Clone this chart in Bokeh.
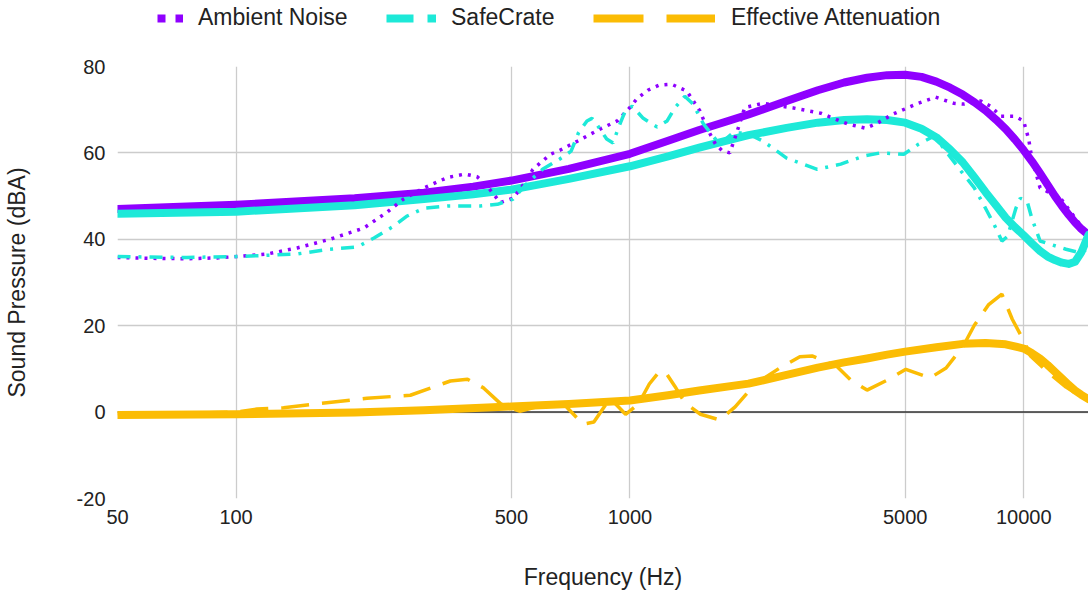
from bokeh.plotting import figure
from bokeh.layouts import column
from bokeh.models import (FixedTicker, PrintfTickFormatter, Span, Legend, LegendItem, Range1d)
from bokeh.embed import file_html
from bokeh.resources import INLINE

# ---------------- data ----------------
x_ticks = [50, 100, 500, 1000, 5000, 10000]
y_ticks = [-20, 0, 20, 40, 60, 80]

ambient_f = [50, 60, 75, 90, 100, 120, 143, 173, 211, 242, 266, 300, 344, 381, 409, 430,
             450, 469, 505, 540, 567, 629, 664, 735, 839, 929, 1000, 1041, 1110, 1188,
             1275, 1395, 1506, 1570, 1650, 1711, 1793, 1866, 1957, 2180, 2600, 3050,
             3570, 3970, 4250, 4660, 5400, 5970, 6640, 7040, 7780, 8230, 8750, 9480,
             9990, 10290, 10480, 11000, 12400, 14300, 14600]
ambient_db = [35.8, 35.6, 35.5, 35.7, 36.0, 36.6, 38.0, 40.0, 42.6, 46.3, 49.3, 51.9, 54.3,
              55.1, 54.5, 52.8, 50.5, 48.5, 49.5, 53.0, 56.2, 59.7, 60.6, 62.7, 65.5, 67.4,
              70.5, 72.5, 74.5, 75.7, 75.9, 74.3, 69.7, 65.7, 62.0, 60.6, 60.0, 64.6, 70.5,
              71.5, 70.4, 69.2, 66.7, 65.7, 66.9, 69.0, 71.5, 72.9, 71.5, 71.3, 72.0, 70.8,
              68.5, 68.5, 67.4, 63.2, 58.8, 51.9, 49.5, 41.9, 41.0]

safe_f = [50, 75, 100, 143, 173, 203, 224, 251, 272, 300, 344, 417, 461, 505, 546, 600,
          664, 709, 740, 778, 801, 823, 873, 906, 934, 973, 1014, 1081, 1172, 1243, 1300,
          1378, 1446, 1537, 1625, 1690, 1825, 1980, 2180, 2500, 2990, 3430, 3930, 4320,
          4960, 5400, 5930, 6930, 7490, 7900, 8400, 8800, 9100, 9550, 9800, 10200, 10480,
          11000, 12800, 14000, 14600]
safe_db = [36.0, 35.8, 36.0, 36.6, 37.7, 38.2, 40.3, 43.0, 45.4, 47.2, 47.7, 47.7, 48.1,
           49.3, 52.8, 56.2, 58.6, 60.4, 64.6, 67.4, 68.0, 66.7, 63.2, 62.3, 65.7, 69.7,
           70.8, 68.0, 66.0, 67.4, 70.4, 73.1, 71.3, 66.7, 63.9, 62.0, 64.6, 64.6, 62.7,
           58.8, 56.2, 57.4, 59.3, 60.0, 59.7, 62.0, 63.9, 55.8, 51.9, 48.1, 43.5, 39.6,
           40.7, 47.2, 49.5, 48.8, 44.9, 39.6, 37.7, 36.8, 38.0]

atten_f = [50, 80, 100, 113, 132, 160, 215, 277, 350, 387, 425, 470, 525, 617, 680, 760,
           810, 890, 975, 1050, 1120, 1190, 1240, 1300, 1380, 1510, 1690, 1850, 2080, 2400,
           2700, 2900, 3350, 3640, 4000, 4500, 5020, 5780, 6350, 7020, 7490, 8130, 8800,
           9350, 10000, 10400, 11600, 12800, 14300, 14600]
atten_db = [-0.3, -0.2, 0.0, 0.7, 1.0, 1.9, 3.2, 3.9, 7.2, 7.6, 5.6, 1.9, 0.2, 1.9, 1.8,
            -2.8, -2.3, 3.2, -0.5, 1.8, 6.5, 9.5, 8.8, 6.0, 2.1, -0.5, -1.8, 1.2, 6.5, 10.2,
            12.8, 13.0, 10.6, 7.4, 5.1, 7.4, 9.9, 7.9, 10.2, 15.3, 20.1, 24.8, 27.3, 21.5,
            16.5, 13.0, 9.0, 5.8, 3.0, 2.8]

# trend lines (thick smooth curves), read at many frequencies
ambient_trend_f = [50, 100, 200, 300, 400, 500, 700, 1000, 1250, 1500, 1750, 2000, 2500,
                   3000, 3500, 4000, 4500, 5000, 5500, 6000, 6500, 7000, 7500, 8000, 8500,
                   9000, 9500, 10000, 10500, 11000, 11500, 12000, 12500, 13000, 13500,
                   14000, 14600]
ambient_trend_db = [47.0, 48.0, 49.5, 50.8, 52.2, 53.6, 56.3, 59.8, 62.8, 65.3, 67.2, 68.9,
                    72.0, 74.5, 76.3, 77.4, 78.0, 78.1, 77.6, 76.5, 75.1, 73.5, 71.7, 69.8,
                    67.7, 65.5, 63.1, 60.6, 58.0, 55.3, 52.6, 50.0, 47.7, 45.7, 43.9, 42.4,
                    41.0]

safe_trend_f = [50, 100, 200, 300, 400, 500, 700, 1000, 1250, 1500, 1750, 2000, 2500, 3000,
                3500, 4000, 4500, 5000, 5500, 6000, 6500, 7000, 7500, 8000, 8500, 9000,
                9500, 10000, 10500, 11000, 11500, 12000, 12500, 13000, 13500, 14000, 14300,
                14600]
safe_trend_db = [45.9, 46.4, 47.9, 49.3, 50.4, 51.5, 54.0, 56.9, 59.2, 61.2, 62.8, 64.1,
                 65.8, 67.0, 67.6, 67.8, 67.6, 67.0, 65.6, 63.6, 60.8, 57.8, 54.3, 50.9,
                 47.9, 45.0, 42.8, 40.9, 39.0, 37.3, 36.0, 35.2, 34.6, 34.3, 34.8, 37.0,
                 39.0, 41.0]

atten_trend_f = [50, 100, 200, 300, 500, 700, 1000, 1250, 1500, 2000, 2500, 3000, 3500,
                 4000, 4500, 5000, 6000, 7000, 8000, 9000, 10000, 10500, 11000, 11500,
                 12000, 12500, 13000, 13500, 14000, 14600]
atten_trend_db = [-0.7, -0.5, -0.1, 0.4, 1.3, 1.9, 2.7, 3.9, 5.0, 6.6, 8.6, 10.3, 11.5,
                  12.4, 13.3, 14.0, 15.0, 15.8, 16.0, 15.7, 14.7, 13.6, 12.4, 10.9, 9.3,
                  7.8, 6.3, 5.0, 4.0, 3.0]

series_names = ["Ambient Noise", "SafeCrate", "Effective Attenuation"]
colors = ["#8f00ff", "#1de9d8", "#fbbc04"]

x_label = "Frequency (Hz)"
y_label = "Sound Pressure (dBA)"

FONT = "Liberation Sans"
TXT = "#222222"

# ---------------- main chart ----------------
p = figure(width=1088, height=560, x_axis_type="log",
           x_range=Range1d(50, 14600), y_range=Range1d(-20, 80),
           output_backend="svg", toolbar_location=None,
           min_border_left=117, min_border_right=0, min_border_top=32,
           min_border_bottom=96)
p.outline_line_color = None
p.background_fill_color = "white"
p.border_fill_color = "white"

p.xaxis.ticker = FixedTicker(ticks=x_ticks, minor_ticks=[])
p.yaxis.ticker = FixedTicker(ticks=y_ticks, minor_ticks=[])
p.xaxis.formatter = PrintfTickFormatter(format="%d")
p.yaxis.formatter = PrintfTickFormatter(format="%d")
for ax in (p.xaxis[0], p.yaxis[0]):
    ax.axis_line_color = None
    ax.major_tick_line_color = None
    ax.minor_tick_line_color = None
    ax.major_tick_in = 0
    ax.major_tick_out = 0
    ax.major_label_text_font = FONT
    ax.major_label_text_font_size = "20px"
    ax.major_label_text_color = TXT
    ax.axis_label_text_font = FONT
    ax.axis_label_text_font_size = "23px"
    ax.axis_label_text_font_style = "normal"
    ax.axis_label_text_color = TXT
p.xaxis.axis_label = x_label
p.yaxis.axis_label = y_label
p.xaxis.major_label_standoff = 11
p.yaxis.major_label_standoff = 12
p.xaxis.axis_label_standoff = 37
p.yaxis.axis_label_standoff = 44

p.xgrid.ticker = p.xaxis[0].ticker
p.ygrid.ticker = p.yaxis[0].ticker
for g in (p.xgrid[0], p.ygrid[0]):
    g.grid_line_color = "#cccccc"
    g.grid_line_width = 1.3

zero = Span(location=0, dimension="width", line_color="#333333", line_width=1.5,
            level="underlay")
p.add_layout(zero)

# trend lines
for f, v, c in ((ambient_trend_f, ambient_trend_db, colors[0]),
                (safe_trend_f, safe_trend_db, colors[1]),
                (atten_trend_f, atten_trend_db, colors[2])):
    p.line(f, v, line_color=c, line_width=8, line_cap="round", line_join="round")

# data series
p.line(ambient_f, ambient_db, line_color=colors[0], line_width=3.5, line_dash="3 6")
p.line(safe_f, safe_db, line_color=colors[1], line_width=3.5, line_dash="13 8 3 8")
p.line(atten_f, atten_db, line_color=colors[2], line_width=3.5, line_dash="28 13")

# ---------------- legend strip above the chart ----------------
# (its frame is aligned with the main frame, which starts at x = 117)
lg = figure(width=1088, height=34, x_range=Range1d(0, 1), y_range=Range1d(0, 1),
            output_backend="svg", toolbar_location=None, min_border=0,
            x_axis_location=None, y_axis_location=None)
lg.outline_line_color = None
lg.grid.visible = False

series_f = [ambient_f, safe_f, atten_f]
series_db = [ambient_db, safe_db, atten_db]
dashes = ["8 10", "27 14 9", "50 23"]
glyph_w = [26, 50, 122]
leg_x = [40, 269, 476]
standoff = [15, 15, 16]
for name, col, dash, gw, lx, so, sf, sd in zip(series_names, colors, dashes, glyph_w,
                                                leg_x, standoff, series_f, series_db):
    # the series data lies outside this strip's 0..1 ranges, so only the legend glyph shows
    r = lg.line(sf, sd, line_color=col, line_width=8, line_dash=dash)
    leg = Legend(items=[LegendItem(label=name, renderers=[r])],
                 location=(lx, 3), orientation="horizontal",
                 glyph_width=gw, glyph_height=20, label_height=20,
                 label_standoff=so, padding=0, margin=0, spacing=0,
                 border_line_color=None, background_fill_alpha=0,
                 label_text_font=FONT, label_text_font_size="23px",
                 label_text_color=TXT)
    lg.add_layout(leg, "center")

layout = column(lg, p, spacing=0)
open("out.html", "w").write(file_html(layout, INLINE))
